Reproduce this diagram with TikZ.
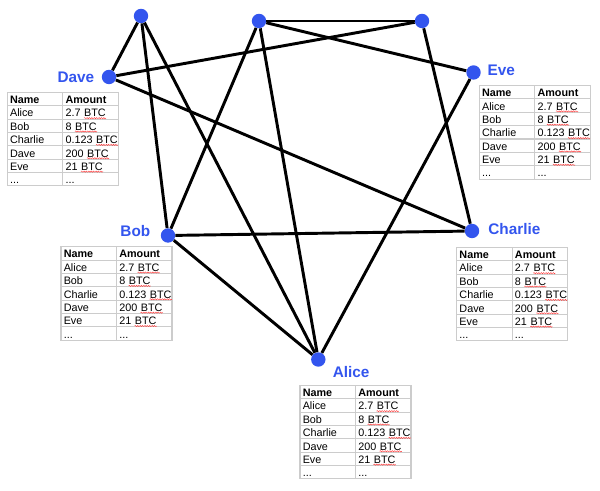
\documentclass[tikz,border=0pt]{standalone}
\usepackage{fontspec}
\setmainfont{Liberation Sans}
\usetikzlibrary{positioning,decorations.pathmorphing}

\definecolor{peerblue}{RGB}{51,85,238}
\tikzset{
  peer/.style={circle,fill=peerblue,inner sep=0pt,minimum size=10.8pt},
  peername/.style={text=peerblue,inner sep=0pt,font=\fontsize{11.5}{13}\selectfont\bfseries},
  link/.style={line width=2.2pt},
  gridline/.style={color=black!20,line width=0.8pt},
  cell/.style={anchor=base west,inner sep=0pt,font=\fontsize{8.1}{9.7}\selectfont},
  cellhead/.style={cell,font=\fontsize{8.1}{9.7}\selectfont\bfseries},
  wavy/.style={red!75,line width=0.35pt,decorate,decoration={snake,amplitude=0.45pt,segment length=1.8pt}}
}

% one row of a ledger: row number, name, amount
\newcommand{\ledgerrow}[3]{%
  \node[cell] at (2.5,#1*13.37+11.3) {#2};
  \node[cell] (amt) at (58,#1*13.37+11.3) {#3};
  \node[cell] (btc) at ([xshift=2.3pt]amt.base east) {BTC};
  \draw[wavy] ([yshift=-0.9pt]btc.base west) -- ([yshift=-0.9pt]btc.base east);}

% a ledger table with its top left corner at (#1,#2)
\newcommand{\ledger}[2]{%
  \begin{scope}[shift={(#1,#2)}]
  \draw[gridline] (0,0) rectangle (111,93.6);
  \draw[gridline] (0,13.37) -- (111,13.37);
  \draw[gridline] (0,26.74) -- (111,26.74);
  \draw[gridline] (0,40.11) -- (111,40.11);
  \draw[gridline] (0,53.48) -- (111,53.48);
  \draw[gridline] (0,66.85) -- (111,66.85);
  \draw[gridline] (0,80.22) -- (111,80.22);
  \draw[gridline] (55.5,0) -- (55.5,93.6);
  \node[cellhead] at (2.5,11.3) {Name};
  \node[cellhead] at (58,11.3) {Amount};
  \ledgerrow{1}{Alice}{2.7}
  \ledgerrow{2}{Bob}{8}
  \ledgerrow{3}{Charlie}{0.123}
  \ledgerrow{4}{Dave}{200}
  \ledgerrow{5}{Eve}{21}
  \node[cell] at (2.5,91.5) {...};
  \node[cell] at (58,91.5) {...};
  \end{scope}}

\begin{document}
\begin{tikzpicture}[x=0.75pt,y=-0.75pt]
\useasboundingbox (0,0) rectangle (600,491);

% peers
\node[peer] (topleft) at (141,16) {};
\node[peer] (topmid) at (259,21) {};
\node[peer] (topright) at (422,21) {};
\node[peer] (dave) at (109,77) {};
\node[peer] (eve) at (473.5,72.5) {};
\node[peer] (bob) at (168,235.5) {};
\node[peer] (charlie) at (472,231) {};
\node[peer] (alice) at (318.3,359.5) {};

\node[peername,left=5.25pt of dave] {Dave};
\node[peername,right=4.8pt of eve,yshift=1.5pt] {Eve};
\node[peername,left=7.5pt of bob,yshift=3pt] {Bob};
\node[peername,right=6.5pt of charlie,yshift=1.5pt] {Charlie};
\node[peername,below right=0.7pt and 6.7pt of alice] {Alice};

% connections
\draw[link] (topleft) -- (dave);
\draw[link] (topleft) -- (bob);
\draw[link] (topleft) -- (alice);
\draw[link] (dave) -- (topright);
\draw[link] (dave) -- (charlie);
\draw[link] (topmid) -- (topright);
\draw[link] (topmid) -- (eve);
\draw[link] (topmid) -- (bob);
\draw[link] (topmid) -- (alice);
\draw[link] (topright) -- (charlie);
\draw[link] (eve) -- (alice);
\draw[link] (bob) -- (charlie);
\draw[link] (bob) -- (alice);

% ledgers
\ledger{7.3}{92.3}
\ledger{479.3}{85.5}
\ledger{61}{246.7}
\ledger{456.7}{247.3}
\ledger{300}{385.3}
\end{tikzpicture}
\end{document}
